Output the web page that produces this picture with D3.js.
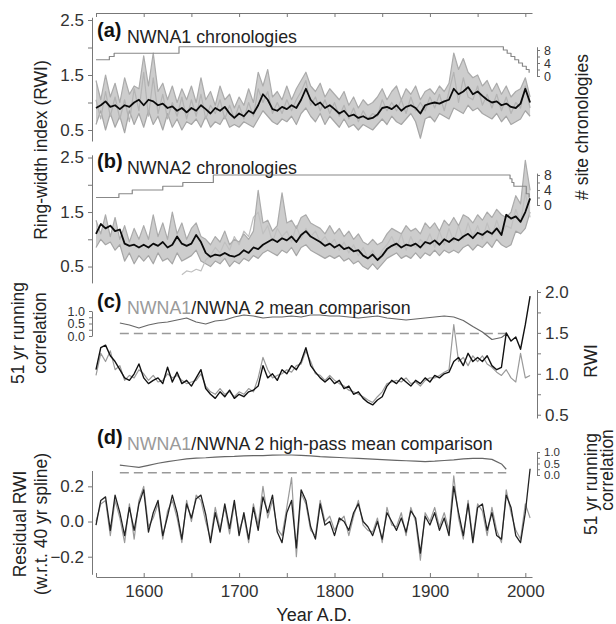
<!DOCTYPE html>
<html>
<head>
<meta charset="utf-8">
<script src="https://cdn.jsdelivr.net/npm/d3@7"></script>
<style>
  body { margin: 0; background: #fff; }
</style>
</head>
<body>
<svg id="chart" width="616" height="624"></svg>
<script>
const FONT = '"Liberation Sans", Arial, Helvetica, sans-serif';

// all ring-width series are sampled every 5 yr from 1550 to 2005 (92 values)
const startYear = 1550, stepYears = 5;

// (a) NWNA1: mean and three site chronologies
const nwna1Mean = [
  0.90,0.95,1.02,0.92,0.95,0.88,0.95,0.92,1.00,1.05,
  0.95,1.05,1.02,0.95,0.98,0.90,0.93,0.85,0.90,0.82,
  0.90,0.85,0.95,0.88,0.80,0.90,0.85,0.92,0.80,0.72,
  0.80,0.75,0.85,0.80,0.95,1.15,1.05,0.88,0.85,0.92,
  0.88,0.95,0.90,1.05,1.25,1.05,0.95,1.00,0.90,0.95,
  0.88,0.80,0.85,0.75,0.78,0.72,0.75,0.70,0.72,0.78,
  0.90,0.92,0.88,0.95,0.85,0.92,0.95,0.90,0.80,0.95,
  0.98,1.00,0.98,1.02,1.05,1.25,1.15,1.20,1.28,1.15,
  1.20,1.12,1.05,1.00,1.02,0.95,0.98,0.92,0.90,0.98,
  1.25,1.00
];
const nwna1SiteHigh = [
  1.40,1.05,1.50,1.10,1.35,1.00,1.45,1.15,1.30,1.25,
  1.85,1.30,1.90,1.20,1.35,1.05,1.30,1.00,1.25,1.05,
  1.30,1.00,1.45,1.05,1.20,0.95,1.30,1.05,1.15,0.90,
  1.10,0.95,1.25,1.00,1.55,1.30,1.60,1.10,1.20,1.05,
  1.30,1.05,1.25,1.40,1.55,1.30,1.20,1.35,1.10,1.25,
  1.15,1.05,1.20,0.95,1.10,0.90,1.05,0.95,1.00,1.10,
  1.25,1.05,1.20,1.30,1.05,1.25,1.15,1.30,1.05,1.20,
  1.25,1.15,1.30,1.20,1.35,1.90,1.60,1.80,1.55,1.45,
  1.50,1.30,1.40,1.20,1.35,1.15,1.30,1.10,1.20,1.25,
  1.45,1.10
];
const nwna1SiteLow = [
  0.60,0.85,0.50,0.80,0.55,0.75,0.45,0.85,0.60,0.80,
  0.55,0.85,0.60,0.75,0.50,0.80,0.55,0.70,0.50,0.65,
  0.60,0.70,0.55,0.75,0.55,0.65,0.60,0.75,0.55,0.60,
  0.55,0.65,0.60,0.55,0.70,0.85,0.75,0.65,0.60,0.70,
  0.65,0.75,0.60,0.80,0.90,0.75,0.65,0.80,0.60,0.75,
  0.65,0.55,0.70,0.55,0.60,0.50,0.60,0.55,0.50,0.60,
  0.70,0.60,0.75,0.65,0.60,0.70,0.80,0.65,0.35,0.70,
  0.75,0.65,0.80,0.75,0.70,0.90,0.85,0.80,0.95,0.85,
  0.90,0.80,0.75,0.70,0.80,0.65,0.75,0.60,0.65,0.70,
  0.85,0.75
];
const nwna1SiteMid = [
  1.05,0.70,1.20,0.75,1.10,0.70,1.05,0.65,1.25,0.85,
  1.55,0.75,1.45,0.80,1.15,0.70,1.00,0.75,1.10,0.70,
  1.05,0.75,1.15,0.70,0.95,0.80,1.05,0.70,0.95,0.70,
  0.95,0.70,1.00,0.75,1.25,1.00,1.20,0.80,1.00,0.80,
  1.05,0.85,1.05,1.20,1.40,0.95,1.10,0.85,1.05,0.80,
  1.00,0.75,0.95,0.70,0.90,0.65,0.85,0.70,0.80,0.75,
  1.05,0.85,1.00,0.85,1.05,0.80,1.10,0.85,1.00,0.85,
  1.10,0.90,1.15,0.85,1.20,1.55,1.00,1.45,1.10,1.05,
  1.30,0.95,1.15,0.90,1.15,0.85,1.10,0.80,1.00,0.90,
  1.30,0.90
];
const countYearsA = [1550, 1564, 1569, 1637, 1977, 1981, 1985, 1989, 1993, 1997, 2001, 2004];
const countA      = [5, 6, 7, 9, 8, 7, 6, 5, 4, 3, 2, 1];

// (b) NWNA2: mean and three site chronologies
const nwna2Mean = [
  1.10,1.28,1.20,1.25,1.15,1.18,0.92,0.88,0.90,0.85,
  0.90,0.85,0.92,0.88,0.95,0.85,0.90,1.05,0.92,0.88,
  0.92,1.08,0.95,0.75,0.68,0.72,0.70,0.75,0.70,0.68,
  0.72,0.80,0.75,0.85,0.82,0.90,0.95,1.00,0.95,1.02,
  0.98,1.05,0.95,1.08,1.15,1.05,1.00,0.95,0.88,0.92,
  0.85,0.90,0.82,0.85,0.78,0.80,0.70,0.65,0.72,0.62,
  0.70,0.82,0.88,0.92,0.85,0.90,0.88,0.92,0.85,0.95,
  0.92,0.98,0.90,1.00,0.95,1.02,0.98,1.05,1.10,1.02,
  1.12,1.08,1.15,1.10,1.20,1.08,1.45,1.38,1.42,1.32,
  1.50,1.75
];
const nwna2SiteHigh = [
  1.35,1.10,1.45,1.05,1.40,1.00,1.25,0.95,1.20,1.00,
  1.25,1.00,1.45,1.05,1.30,1.00,1.50,1.10,1.30,1.00,
  1.20,1.30,1.05,1.00,0.90,1.05,0.95,1.15,0.90,1.00,
  0.95,1.10,1.00,1.15,1.90,1.30,1.35,1.15,1.25,1.85,
  1.30,1.35,1.20,1.40,1.45,1.30,1.25,1.20,1.10,1.25,
  1.10,1.20,1.05,1.15,1.00,1.10,0.95,0.90,1.00,0.90,
  0.95,1.10,1.20,1.15,1.10,1.25,1.15,1.20,1.10,1.30,
  1.20,1.30,1.15,1.35,1.25,1.40,1.25,1.45,1.40,1.30,
  1.45,1.35,1.50,1.40,1.55,1.45,1.40,1.50,1.80,1.65,
  2.45,1.90
];
const nwna2SiteLow = [
  0.85,1.00,0.90,0.95,0.80,0.90,0.60,0.75,0.55,0.70,
  0.60,0.70,0.55,0.75,0.60,0.65,0.55,0.75,0.60,0.65,
  0.70,0.80,0.60,0.55,0.50,0.60,0.55,0.65,0.50,0.60,
  0.55,0.65,0.60,0.70,0.65,0.75,0.80,0.75,0.70,0.80,
  0.75,0.85,0.70,0.85,0.90,0.80,0.75,0.70,0.65,0.70,
  0.65,0.70,0.60,0.65,0.55,0.60,0.50,0.45,0.55,0.45,
  0.55,0.65,0.70,0.75,0.65,0.70,0.65,0.75,0.65,0.75,
  0.70,0.80,0.70,0.80,0.75,0.80,0.75,0.85,0.90,0.80,
  0.90,0.85,0.95,0.85,1.00,0.90,0.85,0.90,1.15,1.10,
  1.20,1.50
];
const nwna2SiteShort = [
  null,null,null,null,null,null,null,null,null,null,
  null,null,null,null,null,null,null,null,0.35,0.42,
  0.40,0.45,0.42,0.62,0.70,0.85,0.75,0.95,0.80,1.05,
  0.90,1.15,1.05,1.40,1.50,1.10,1.25,0.95,1.20,1.05,
  1.15,0.95,1.25,1.00,1.20,1.05,1.15,0.95,1.05,0.90,
  1.00,0.80,0.95,0.75,0.90,0.70,0.85,0.65,0.80,0.60,
  0.80,0.90,1.05,0.85,1.10,0.80,1.05,0.85,1.00,0.90,
  1.10,0.85,1.15,0.90,1.20,0.95,1.25,1.00,1.30,1.05,
  1.25,1.00,1.30,1.05,1.35,1.10,1.25,1.20,1.55,1.30,
  1.85,1.40
];
const countYearsB = [1550, 1574, 1588, 1620, 1641, 1673, 1984, 1986, 1988, 2001, 2004];
const countB      = [2, 3, 4, 5, 6, 8, 7, 6, 5, 3, 2];

// (c) mean comparison (RWI)
const compNwna1 = [
  0.98,1.25,1.15,1.28,1.05,1.10,0.92,0.98,0.95,1.05,
  1.00,0.92,0.98,0.90,0.92,1.00,0.95,0.98,0.92,0.88,
  0.90,0.92,1.00,0.85,0.78,0.75,0.82,0.75,0.78,0.72,
  0.78,0.75,0.82,0.78,0.95,1.20,1.05,0.95,0.98,1.00,
  1.05,1.02,1.10,1.12,1.28,1.15,1.00,0.98,0.92,0.98,
  0.92,0.88,0.85,0.80,0.78,0.75,0.72,0.68,0.65,0.72,
  0.78,0.88,0.90,0.92,0.90,0.95,0.88,0.90,0.85,0.92,
  0.95,0.95,0.98,1.02,1.05,1.60,1.15,1.20,1.10,1.22,
  1.15,1.22,1.12,1.08,1.02,0.98,1.05,0.95,0.90,1.25,
  0.95,0.98
];
const compNwna2 = [
  1.05,1.32,1.35,1.22,1.15,1.05,0.95,0.92,1.00,1.12,
  0.95,0.88,0.92,0.95,0.88,1.08,0.90,1.02,0.88,0.92,
  0.85,0.95,1.05,0.82,0.75,0.70,0.78,0.72,0.80,0.70,
  0.75,0.72,0.78,0.80,0.85,1.10,0.95,1.00,0.92,1.05,
  1.00,1.10,1.05,1.15,1.32,1.10,1.02,0.95,0.90,0.95,
  0.88,0.92,0.82,0.85,0.75,0.78,0.70,0.65,0.62,0.68,
  0.72,0.85,0.92,0.88,0.95,0.90,0.85,0.92,0.88,0.95,
  0.90,0.98,0.95,1.00,1.02,1.15,1.20,1.10,1.25,1.15,
  1.20,1.15,1.22,1.10,1.05,1.08,1.50,1.40,1.45,1.30,
  1.60,1.95
];

// (d) high-pass residuals (w.r.t. 40 yr spline)
const hpNwna1 = [
  0.00,0.10,0.12,-0.08,0.12,0.02,-0.12,0.10,-0.10,0.12,
  0.20,-0.03,0.02,0.10,-0.10,0.06,0.12,0.02,-0.12,0.12,
  0.00,0.15,0.12,0.00,-0.10,0.08,-0.04,0.08,-0.07,0.10,
  -0.05,0.03,-0.12,0.10,-0.02,0.20,0.02,0.12,-0.04,-0.08,
  0.08,0.25,-0.20,0.16,0.10,-0.05,-0.08,0.12,0.00,0.03,
  -0.05,0.00,0.03,-0.08,0.03,0.12,-0.02,-0.05,-0.06,0.02,
  -0.12,0.08,-0.02,-0.03,0.05,-0.08,0.08,0.00,-0.22,0.05,
  0.00,0.08,-0.03,0.05,-0.05,0.26,0.02,-0.10,0.12,-0.10,
  0.10,0.06,-0.08,0.08,-0.05,-0.12,0.18,0.05,-0.05,-0.10,
  0.10,0.02
];
const hpNwna2 = [
  -0.02,0.12,0.14,-0.05,0.15,0.05,-0.08,0.08,-0.05,0.10,
  0.18,-0.06,0.05,0.12,-0.08,0.03,0.15,0.05,-0.10,0.10,
  0.02,0.13,0.15,0.04,-0.12,0.05,-0.06,0.10,-0.04,0.12,
  -0.08,0.05,-0.10,0.08,-0.05,0.14,0.05,0.15,-0.06,-0.12,
  0.05,0.12,-0.15,0.18,0.12,-0.03,-0.10,0.10,-0.02,0.00,
  -0.08,0.02,0.00,-0.05,0.05,0.10,0.00,-0.03,-0.08,0.00,
  -0.10,0.05,0.00,-0.05,0.02,-0.06,0.06,0.02,-0.18,0.03,
  -0.02,0.05,-0.05,0.02,-0.08,0.20,0.05,-0.08,0.10,-0.12,
  0.08,0.10,-0.05,0.05,-0.08,-0.10,0.15,0.08,-0.08,-0.12,
  0.05,0.30
];

// 51 yr running correlations
const corrYears = [
  1575,1585,1595,1605,1615,1625,1635,1645,1655,1665,
  1675,1685,1695,1705,1715,1725,1735,1745,1755,1765,
  1775,1785,1795,1805,1815,1825,1835,1845,1855,1865,
  1875,1885,1895,1905,1915,1925,1935,1945,1955,1965,
  1975,1980
];
const corrMean = [
  0.52,0.44,0.32,0.44,0.52,0.56,0.64,0.72,0.56,0.48,
  0.60,0.64,0.76,0.84,0.80,0.72,0.76,0.76,0.80,0.76,
  0.84,0.84,0.80,0.80,0.76,0.72,0.76,0.80,0.72,0.68,
  0.64,0.68,0.72,0.76,0.80,0.76,0.62,0.38,0.16,-0.14,
  -0.06,0.08
];
const corrHighPass = [
  0.43,0.38,0.33,0.42,0.51,0.58,0.64,0.70,0.73,0.75,
  0.78,0.80,0.81,0.83,0.84,0.84,0.86,0.87,0.87,0.85,
  0.83,0.80,0.78,0.76,0.74,0.72,0.70,0.68,0.66,0.64,
  0.62,0.60,0.58,0.60,0.63,0.66,0.70,0.72,0.72,0.68,
  0.48,0.25
];
const corrSig = 0.1;

const yearTicks = [1550, 1600, 1650, 1700, 1750, 1800, 1850, 1900, 1950, 2000];
const yearLabels = [1600, 1700, 1800, 1900, 2000];

// ---------- scales ----------
const svg = d3.select("#chart");
const x = d3.scaleLinear().domain([1550, 2007]).range([96, 532]);
const yA = d3.scaleLinear().domain([0.3, 2.55]).range([141, 17.25]);
const yB = d3.scaleLinear().domain([0.2, 2.55]).range([282.9, 154.8]);
const yC = d3.scaleLinear().domain([0.46, 2.03]).range([418, 289.5]);
const yD = d3.scaleLinear().domain([-0.3, 0.29]).range([574.3, 470.5]);
const cntA = d3.scaleLinear().domain([0, 9]).range([76, 46.75]);
const cntB = d3.scaleLinear().domain([0, 8.5]).range([205, 173.1]);
const corC = d3.scaleLinear().domain([0, 1]).range([336, 311]);
const corD = d3.scaleLinear().domain([0, 1]).range([475, 452]);

const LEFT_X = 92, RIGHT_X = 537;
const f1 = d3.format(".1f");

const toPoints = vals => vals.map((v, i) => ({ year: startYear + i * stepYears, v }));
const zipPoints = (years, vals) => years.map((yr, i) => ({ year: yr, v: vals[i] }));

function drawLine(points, yScale, color, width, opts = {}) {
  const line = d3.line()
    .defined(d => d.v !== null)
    .curve(opts.curve || d3.curveLinear)
    .x(d => x(d.year))
    .y(d => yScale(d.v));
  const p = svg.append("path")
    .datum(points)
    .attr("d", line)
    .attr("fill", "none")
    .attr("stroke", color)
    .attr("stroke-width", width)
    .attr("stroke-linejoin", "round");
  if (opts.dash) p.attr("stroke-dasharray", opts.dash);
  return p;
}

// light band spanned by the site chronologies
function drawBand(low, high, yScale, color) {
  const area = d3.area()
    .x((d, i) => x(startYear + i * stepYears))
    .y0(d => yScale(d[0]))
    .y1(d => yScale(d[1]));
  svg.append("path")
    .datum(low.map((v, i) => [v, high[i]]))
    .attr("d", area)
    .attr("fill", color)
    .attr("stroke", "none");
}

function styleAxis(g, fontSize = 17) {
  g.attr("font-family", FONT).attr("font-size", fontSize);
  g.selectAll("path, line").attr("stroke", "#777").attr("stroke-width", 1);
  g.selectAll("text").attr("fill", "#333");
  return g;
}

function leftAxis(scale, ticks, labelled, size = 4, fontSize = 17) {
  svg.append("g")
    .attr("transform", `translate(${LEFT_X},0)`)
    .call(d3.axisLeft(scale).tickValues(ticks)
      .tickFormat(d => labelled.includes(d) ? f1(d) : "")
      .tickSize(size).tickSizeOuter(0).tickPadding(4))
    .call(g => styleAxis(g, fontSize));
}

function rightAxis(scale, ticks, labelled, fmt, size = 4, fontSize = 17) {
  svg.append("g")
    .attr("transform", `translate(${RIGHT_X},0)`)
    .call(d3.axisRight(scale).tickValues(ticks)
      .tickFormat(d => labelled.includes(d) ? fmt(d) : "")
      .tickSize(size).tickSizeOuter(0).tickPadding(4))
    .call(g => styleAxis(g, fontSize));
}

function panelTitle(letter, letterY, parts) {
  svg.append("text")
    .attr("x", 97).attr("y", letterY)
    .attr("font-family", FONT).attr("font-size", 20).attr("font-weight", "bold")
    .attr("fill", "#111")
    .text(`(${letter})`);
  const t = svg.append("text")
    .attr("x", 127).attr("y", letterY + 6)
    .attr("font-family", FONT).attr("font-size", 17.8);
  parts.forEach(([s, c]) => t.append("tspan").attr("fill", c).text(s));
}

function vLabel(lines, cy) {
  lines.forEach(([s, bx, dy]) => {
    svg.append("text")
      .attr("transform", `translate(${bx},${cy + (dy || 0)}) rotate(-90)`)
      .attr("text-anchor", "middle")
      .attr("font-family", FONT).attr("font-size", 17.5)
      .attr("fill", "#222")
      .text(s);
  });
}

// ---------- top frame ----------
svg.append("g")
  .attr("transform", "translate(0,13)")
  .call(d3.axisBottom(x).tickValues(yearTicks).tickFormat("").tickSize(4).tickSizeOuter(0))
  .call(g => styleAxis(g));

// ---------- (a) ----------
drawBand(nwna1SiteLow, nwna1SiteHigh, yA, "#cdcdcd");
drawLine(toPoints(nwna1SiteLow), yA, "#a6a6a6", 1.2);
drawLine(toPoints(nwna1SiteMid), yA, "#b4b4b4", 1.2);
drawLine(toPoints(nwna1SiteHigh), yA, "#ababab", 1.2);
drawLine(zipPoints(countYearsA, countA), cntA, "#888", 1.2, { curve: d3.curveStepAfter });
drawLine(toPoints(nwna1Mean), yA, "#0a0a0a", 1.8);
leftAxis(yA, [0.5, 1, 1.5, 2, 2.5], [0.5, 1.5, 2.5]);
rightAxis(cntA, [0, 2, 4, 6, 8], [0, 4, 8], d => d, 3, 12.5);
panelTitle("a", 37, [["NWNA1 chronologies", "#222"]]);

// ---------- (b) ----------
drawBand(nwna2SiteLow, nwna2SiteHigh, yB, "#cdcdcd");
drawLine(toPoints(nwna2SiteLow), yB, "#a6a6a6", 1.2);
drawLine(toPoints(nwna2SiteShort), yB, "#c0c0c0", 1.2);
drawLine(toPoints(nwna2SiteHigh), yB, "#ababab", 1.2);
drawLine(zipPoints(countYearsB, countB), cntB, "#888", 1.2, { curve: d3.curveStepAfter });
drawLine(toPoints(nwna2Mean), yB, "#0a0a0a", 1.8);
leftAxis(yB, [0.5, 1, 1.5, 2, 2.5], [0.5, 1.5, 2.5]);
rightAxis(cntB, [0, 2, 4, 6, 8], [0, 4, 8], d => d, 3, 14);
panelTitle("b", 168, [["NWNA2 chronologies", "#222"]]);

// ---------- (c) ----------
drawLine(zipPoints(d3.extent(corrYears), [corrSig, corrSig]), corC, "#999", 1.6, { dash: "9,5" });
drawLine(zipPoints(corrYears, corrMean), corC, "#666", 1.2);
drawLine(toPoints(compNwna1), yC, "#9a9a9a", 1.2);
drawLine(toPoints(compNwna2), yC, "#111", 1.4);
leftAxis(corC, [0, 0.25, 0.5, 0.75, 1], [0, 0.5, 1], 3, 12.5);
rightAxis(yC, [0.5, 0.75, 1, 1.25, 1.5, 1.75, 2], [0.5, 1, 1.5, 2], f1);
panelTitle("c", 308, [["NWNA1", "#9a9a9a"], ["/NWNA 2 mean comparison", "#222"]]);

// ---------- (d) ----------
drawLine(zipPoints(d3.extent(corrYears), [corrSig, corrSig]), corD, "#999", 1.6, { dash: "9,5" });
drawLine(zipPoints(corrYears, corrHighPass), corD, "#666", 1.2);
drawLine(toPoints(hpNwna1), yD, "#9a9a9a", 1.2);
drawLine(toPoints(hpNwna2), yD, "#222", 1.3);
leftAxis(yD, [-0.2, 0, 0.2], [-0.2, 0, 0.2]);
rightAxis(corD, [0, 0.25, 0.5, 0.75, 1], [0, 0.5, 1], f1, 3, 11.5);
panelTitle("d", 444, [["NWNA1", "#9a9a9a"], ["/NWNA 2 high-pass mean comparison", "#222"]]);

// ---------- bottom year axis ----------
svg.append("g")
  .attr("transform", "translate(0,577)")
  .call(d3.axisBottom(x).tickValues(yearTicks)
    .tickFormat(d => yearLabels.includes(d) ? d : "")
    .tickSizeInner(-4).tickSizeOuter(0).tickPadding(8))
  .call(g => styleAxis(g));

svg.append("text")
  .attr("x", 314).attr("y", 621)
  .attr("text-anchor", "middle")
  .attr("font-family", FONT).attr("font-size", 18).attr("fill", "#222")
  .text("Year A.D.");

// ---------- axis titles ----------
vLabel([["Ring-width index (RWI)", 47]], 150);
vLabel([["# site chronologies", 588]], 127);
vLabel([["51 yr running", 24], ["correlation", 46]], 333);
vLabel([["RWI", 597]], 361);
vLabel([["51 yr running", 597, 6], ["correlation", 613, -8]], 478);
vLabel([["Residual RWI", 26], ["(w.r.t. 40 yr spline)", 47]], 524);
</script>
</body>
</html>
